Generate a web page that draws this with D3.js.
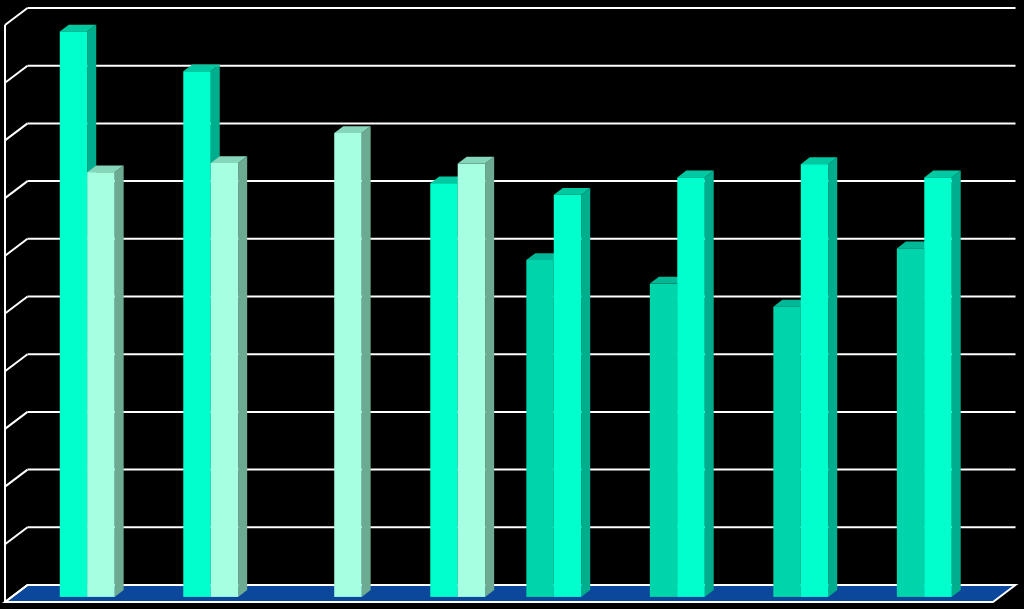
<!DOCTYPE html>
<html>
<head>
<meta charset="utf-8">
<script src="https://cdn.jsdelivr.net/npm/d3@7"></script>
<style>
  html, body { margin: 0; padding: 0; background: #000; }
  svg { display: block; }
</style>
</head>
<body>
<svg id="chart" width="1024" height="609"></svg>
<script>
// data (percent)
var categories = ["1", "2", "3", "4", "5", "6", "7", "8"];
var seriesNames = ["A", "B", "C"];
var seriesA = [null, null, null, null, 58.4, 54.3, 50.3, 60.4];
var seriesB = [98.0, 91.1, null, 71.7, 69.7, 72.7, 75.0, 72.7];
var seriesC = [73.6, 75.2, 80.4, 75.1, null, null, null, null];
var yTicks = [0, 10, 20, 30, 40, 50, 60, 70, 80, 90, 100];

var COLORS = [
  {front: "#00d4aa", side: "#00a283", top: "#00b896"},
  {front: "#00ffcc", side: "#00ad8c", top: "#00c9a1"},
  {front: "#a6ffe0", side: "#6caa92", top: "#86d6ba"}
];

var svg = d3.select("#chart");

// front plane of the box and its depth offset
var box = {left: 5, right: 993, top: 25, bottom: 602};
var DX = 22.5, DY = -17;
// bars sit inside the depth
var BAR_F = 0.3, BAR_D = 0.4;
var bx = DX * BAR_F, by = DY * BAR_F;
var bdx = DX * BAR_D, bdy = DY * BAR_D;

var x = d3.scaleBand()
  .domain(categories)
  .range([box.left, box.right])
  .paddingInner(1 / 3)
  .paddingOuter(1 / 6);

var xs = d3.scaleBand()
  .domain(seriesNames)
  .range([0, x.bandwidth()]);

// value scale on the back wall
var yBack = d3.scaleLinear()
  .domain([0, 100])
  .range([box.bottom + DY, box.top + DY]);

// value scale on the bar front plane
var yBar = d3.scaleLinear()
  .domain([0, 100])
  .range([box.bottom + by, box.top + by]);

var g = svg.append("g");

// floor
g.append("polygon")
  .attr("points", [
    [box.left, box.bottom],
    [box.right, box.bottom],
    [box.right + DX, box.bottom + DY],
    [box.left + DX, box.bottom + DY]
  ].join(" "))
  .style("fill", "#0b479b")
  .style("stroke", "#fff")
  .style("stroke-width", 2);

// left wall edge
g.append("line")
  .attr("x1", box.left).attr("x2", box.left)
  .attr("y1", box.top).attr("y2", box.bottom)
  .style("stroke", "#fff")
  .style("stroke-width", 2);

// gridlines: back wall + left wall
var grid = g.append("g").attr("class", "grid");
grid.selectAll(".back").data(yTicks)
  .enter().append("line")
  .attr("class", "back")
  .attr("x1", box.left + DX)
  .attr("x2", box.right + DX)
  .attr("y1", function(d) { return yBack(d); })
  .attr("y2", function(d) { return yBack(d); });
grid.selectAll(".side").data(yTicks)
  .enter().append("line")
  .attr("class", "side")
  .attr("x1", box.left)
  .attr("x2", box.left + DX)
  .attr("y1", function(d) { return yBack(d) - DY; })
  .attr("y2", function(d) { return yBack(d); });
grid.selectAll("line")
  .style("stroke", "#fff")
  .style("stroke-width", 2);

// bars, left to right so later faces cover earlier sides
var values = [seriesA, seriesB, seriesC];
var bars = [];
categories.forEach(function(c, i) {
  values.forEach(function(s, j) {
    if (s[i] != null) bars.push({cat: c, series: j, value: s[i]});
  });
});

var bar = g.selectAll(".bar").data(bars)
  .enter().append("g")
  .attr("class", "bar");

bar.each(function(d) {
  var x0 = x(d.cat) + xs(seriesNames[d.series]) + bx;
  var x1 = x0 + xs.bandwidth();
  var y0 = yBar(0);
  var y1 = yBar(d.value);
  var col = COLORS[d.series];
  var sel = d3.select(this);

  sel.append("polygon")
    .attr("class", "side")
    .attr("points", [[x1, y0], [x1 + bdx, y0 + bdy], [x1 + bdx, y1 + bdy], [x1, y1]].join(" "))
    .style("fill", col.side);

  sel.append("polygon")
    .attr("class", "top")
    .attr("points", [[x0, y1], [x1, y1], [x1 + bdx, y1 + bdy], [x0 + bdx, y1 + bdy]].join(" "))
    .style("fill", col.top);

  sel.append("rect")
    .attr("class", "front")
    .attr("x", x0)
    .attr("y", y1)
    .attr("width", x1 - x0)
    .attr("height", y0 - y1)
    .style("fill", col.front);
});
</script>
</body>
</html>
